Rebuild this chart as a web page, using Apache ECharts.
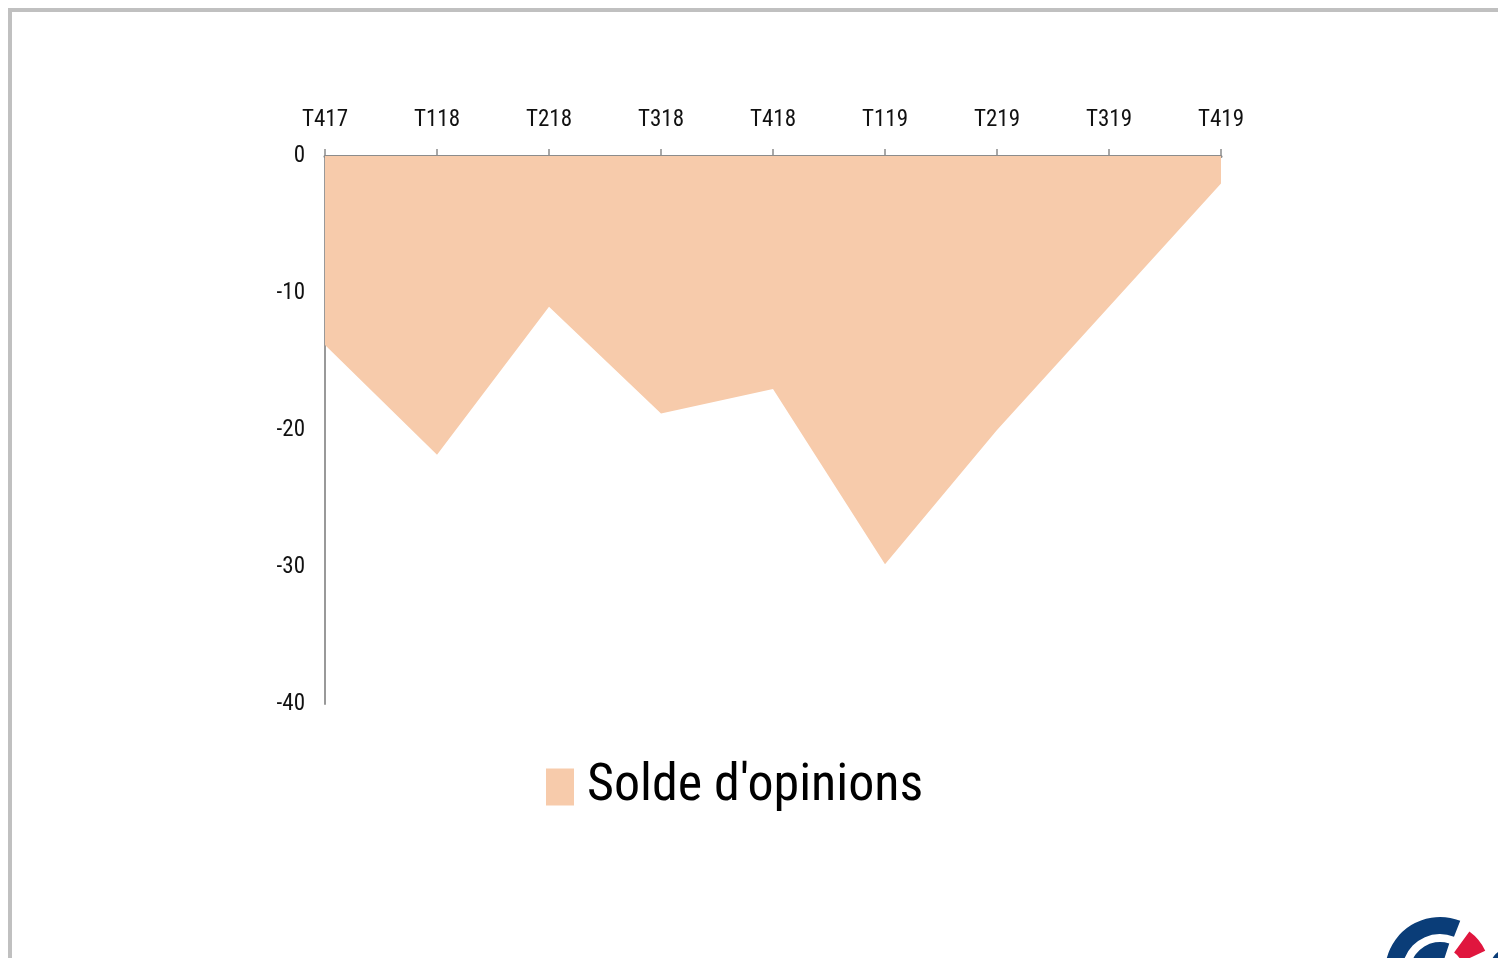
<!DOCTYPE html>
<html>
<head>
<meta charset="utf-8">
<style>
  html, body { margin: 0; padding: 0; background: #fff; }
  #chart { width: 1498px; height: 958px; }
</style>
<script src="https://cdn.jsdelivr.net/npm/echarts@6/dist/echarts.min.js"></script>
</head>
<body>
<div id="chart"></div>
<script>
// trimestres
var quarters = ["T417", "T118", "T218", "T318", "T418", "T119", "T219", "T319", "T419"];
// solde d'opinions
var solde = [-13.8, -21.8, -11, -18.8, -17, -29.8, -20, -11, -2];
var yTicks = [0, -10, -20, -30, -40];

var fontFam = '"Liberation Sans Narrow", "Roboto Condensed", "Noto Sans", sans-serif';
var fill = "#f7cbab";

var chart = echarts.init(document.getElementById("chart"));
chart.setOption({
  animation: false,
  grid: { left: 325, right: 277, top: 156, bottom: 254 },
  legend: {
    data: [{ name: "Solde d'opinions", icon: "rect" }],
    left: 541,
    top: 756,
    itemWidth: 28,
    itemHeight: 37,
    itemGap: 10,
    textStyle: { fontFamily: fontFam, fontSize: 52, color: "#000", padding: [0, 0, 0, 8] }
  },
  xAxis: {
    type: "category",
    position: "top",
    data: quarters,
    boundaryGap: false,
    axisLine: { lineStyle: { color: "#8c8c8c", width: 3 } },
    axisTick: { show: true, length: 7, inside: false, lineStyle: { color: "#8c8c8c", width: 1.5 } },
    axisLabel: { fontFamily: fontFam, fontSize: 23, color: "#111", margin: 24 },
    splitLine: { show: false }
  },
  yAxis: {
    type: "value",
    min: -40,
    max: 0,
    interval: 10,
    axisLine: { show: true, lineStyle: { color: "#999", width: 2 } },
    axisTick: { show: false },
    axisLabel: {
      fontFamily: fontFam, fontSize: 23, color: "#111", margin: 20,
      formatter: function (v) { return yTicks.indexOf(v) >= 0 ? String(v) : ""; }
    },
    splitLine: { show: false }
  },
  series: [{
    name: "Solde d'opinions",
    type: "line",
    data: solde,
    symbol: "none",
    lineStyle: { width: 0, color: fill },
    itemStyle: { color: fill },
    areaStyle: { color: fill, opacity: 1, origin: "end" }
  }],
  graphic: [
    {
      type: "polyline",
      shape: { points: [[10, 958], [10, 10], [1498, 10]] },
      style: { stroke: "#c0c0c0", lineWidth: 4, fill: null },
      z: 10
    },
    // logo partiel en bas à droite
    {
      type: "sector",
      shape: { cx: 1440, cy: 972, r0: 38, r: 55, startAngle: Math.PI * 0.95, endAngle: Math.PI * 1.62 },
      style: { fill: "#0a3d78" }
    },
    {
      type: "sector",
      shape: { cx: 1440, cy: 972, r0: 14, r: 30, startAngle: Math.PI * 0.95, endAngle: Math.PI * 1.6 },
      style: { fill: "#0a3d78" }
    },
    {
      type: "sector",
      shape: { cx: 1440, cy: 972, r0: 24, r: 50, startAngle: Math.PI * 1.7, endAngle: Math.PI * 1.86 },
      style: { fill: "#e0163e" }
    },
    {
      type: "sector",
      shape: { cx: 1510, cy: 968, r0: 10, r: 20, startAngle: Math.PI * 1.0, endAngle: Math.PI * 1.7 },
      style: { fill: "#0a3d78" }
    }
  ]
});
</script>
</body>
</html>
